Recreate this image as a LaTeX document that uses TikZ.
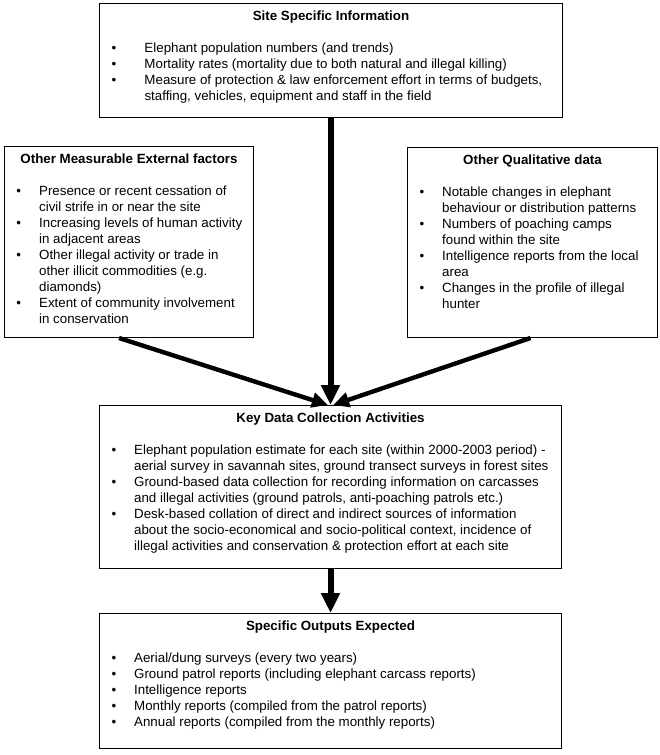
\documentclass[tikz,border=0pt]{standalone}
\usepackage{fontspec}
\setmainfont{Liberation Sans}
\usetikzlibrary{arrows.meta}

\newcommand{\boxtitle}[1]{\vspace*{5.5pt}{\centering\bfseries #1\par}\vspace{12pt}}
\newcommand{\bitem}[2][17pt]{\par\leftskip=9pt\rightskip=0pt plus 1fil
  \hangindent=#1\hangafter=1\noindent\makebox[#1][l]{\textbullet}#2}
\newcommand{\boxbody}[3]{\parbox[c][#1][t]{#2}{#3}}

\begin{document}
\begin{tikzpicture}[
  x=0.75pt, y=-0.75pt,
  infobox/.style={draw, line width=0.75pt, inner sep=0pt, anchor=north west,
    font=\fontsize{10}{12}\selectfont},
  bigarrow/.style={line width=4.5pt, -{Triangle[width=13.5pt,length=15pt]}},
  sidearrow/.style={line width=3.3pt, -{Triangle[width=11pt,length=12pt]}}
]
  \useasboundingbox (0,0) rectangle (659,755);

  \node[infobox] (site) at (99,3) {\boxbody{85.5pt}{347.25pt}{%
    \boxtitle{Site Specific Information}
    \bitem[24.75pt]{Elephant population numbers (and trends)}
    \bitem[24.75pt]{Mortality rates (mortality due to both natural and illegal killing)}
    \bitem[24.75pt]{Measure of protection \& law enforcement effort in terms of budgets,\\
      staffing, vehicles, equipment and staff in the field}}};

  \node[infobox] (external) at (4,146) {\boxbody{143.25pt}{186.75pt}{%
    \boxtitle{Other Measurable External factors}
    \bitem{Presence or recent cessation of\\ civil strife in or near the site}
    \bitem{Increasing levels of human activity\\ in adjacent areas}
    \bitem{Other illegal activity or trade in\\ other illicit commodities (e.g.\\ diamonds)}
    \bitem{Extent of community involvement\\ in conservation}}};

  \node[infobox] (qualitative) at (407,147) {\boxbody{142.5pt}{187.5pt}{%
    \boxtitle{Other Qualitative data}
    \bitem{Notable changes in elephant\\ behaviour or distribution patterns}
    \bitem{Numbers of poaching camps\\ found within the site}
    \bitem{Intelligence reports from the local\\ area}
    \bitem{Changes in the profile of illegal\\ hunter}}};

  \node[infobox] (key) at (99,405) {\boxbody{122.25pt}{346.5pt}{%
    \boxtitle{Key Data Collection Activities}
    \bitem{Elephant population estimate for each site (within 2000-2003 period) -\\
      aerial survey in savannah sites, ground transect surveys in forest sites}
    \bitem{Ground-based data collection for recording information on carcasses\\
      and illegal activities (ground patrols, anti-poaching patrols etc.)}
    \bitem{Desk-based collation of direct and indirect sources of information\\
      about the socio-economical and socio-political context, incidence of\\
      illegal activities and conservation \& protection effort at each site}}};

  \node[infobox] (outputs) at (99,613) {\boxbody{101.25pt}{346.5pt}{%
    \boxtitle{Specific Outputs Expected}
    \bitem{Aerial/dung surveys (every two years)}
    \bitem{Ground patrol reports (including elephant carcass reports)}
    \bitem{Intelligence reports}
    \bitem{Monthly reports (compiled from the patrol reports)}
    \bitem{Annual reports (compiled from the monthly reports)}}};

  % arrows into the key activities box
  \draw[bigarrow] (key.north |- site.south) -- (key.north);
  \draw[sidearrow] ([xshift=-7.5pt]external.south) -- ([xshift=-2pt]key.north);
  \draw[sidearrow] ([xshift=-1.5pt]qualitative.south) -- ([xshift=2pt]key.north);
  \draw[bigarrow] (key.south) -- (outputs.north);
\end{tikzpicture}
\end{document}
